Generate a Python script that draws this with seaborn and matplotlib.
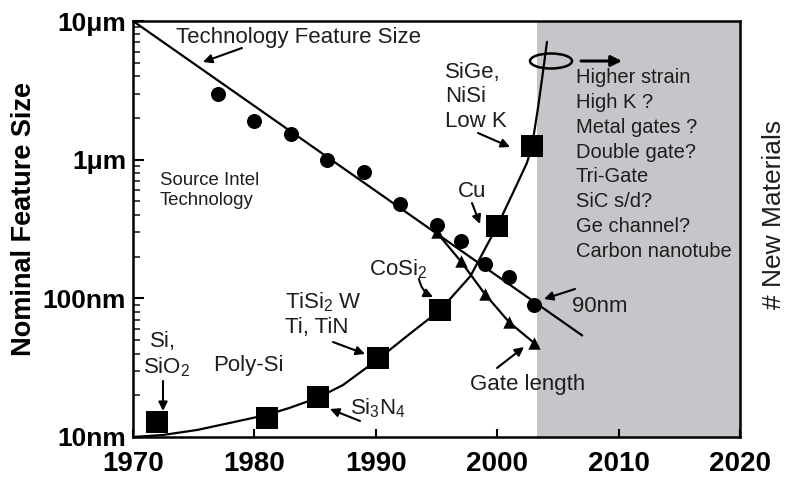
import matplotlib
matplotlib.use("Agg")
import matplotlib.pyplot as plt
from matplotlib.patches import Ellipse
from matplotlib.ticker import LogLocator, NullFormatter
import seaborn as sns

# ---------------- data ----------------
node_years = [1977, 1980, 1983, 1986, 1989, 1992, 1995, 1997, 1999, 2001, 2003]
node_nm = [3000, 1900, 1540, 1000, 810, 475, 340, 257, 176, 142, 89]

gate_years = [1995, 1997, 1999, 2001, 2003]
gate_nm = [300, 185, 107, 67, 48]

trend_years = [1970, 2007]
trend_nm = [10000, 54]

materials_years = [1972.0, 1981.0, 1985.2, 1990.2, 1995.3, 2000.0, 2002.9]
materials_count = [3.6, 4.6, 9.6, 19.0, 30.5, 50.7, 70.0]

curve_years = [1970.0, 1972.5, 1975.3, 1978.0, 1981.0, 1982.9, 1985.2, 1987.3,
               1990.1, 1992.8, 1995.3, 1997.8, 2000.0, 2001.3, 2002.45, 2002.87,
               2003.36, 2003.77, 2004.1]
curve_vals = [0.0, 0.5, 1.7, 3.4, 5.3, 7.0, 9.4, 12.5, 18.5, 24.8, 30.5, 38.7,
              50.7, 58.7, 65.9, 70.0, 79.1, 87.7, 95.0]

shade_start = 2003.3

x_ticks = [1970, 1980, 1990, 2000, 2010, 2020]
x_labels = ["1970", "1980", "1990", "2000", "2010", "2020"]
y_ticks_nm = [10, 100, 1000, 10000]
y_labels = ["10nm", "100nm", "1\u03bcm", "10\u03bcm"]

future_items = ["Higher strain", "High K ?", "Metal gates ?", "Double gate?",
                "Tri-Gate", "SiC s/d?", "Ge channel?", "Carbon nanotube"]

# ---------------- style ----------------
sns.set_theme(style="ticks")
plt.rcParams["font.family"] = ["Liberation Sans", "DejaVu Sans"]
plt.rcParams["mathtext.fontset"] = "custom"
plt.rcParams["mathtext.rm"] = "Liberation Sans"
plt.rcParams["mathtext.it"] = "Liberation Sans:italic"
plt.rcParams["mathtext.bf"] = "Liberation Sans:bold"

W, H = 789, 484
L, R, T, B = 133, 740, 21, 437
fig = plt.figure(figsize=(W / 100, H / 100), dpi=100)
fig.patch.set_facecolor("white")
ax = fig.add_axes([L / W, 1 - B / H, (R - L) / W, (B - T) / H])

ax.set_yscale("log")
ax.set_xlim(1970, 2020)
ax.set_ylim(10, 10000)
ax.axvspan(shade_start, 2020, color="#c6c6ca", lw=0, zorder=0)

sns.lineplot(x=trend_years, y=trend_nm, ax=ax, color="black", lw=1.6, zorder=2)
sns.lineplot(x=gate_years, y=gate_nm, ax=ax, color="black", lw=1.6, zorder=2)
sns.scatterplot(x=node_years, y=node_nm, ax=ax, marker="o", s=117,
                color="black", linewidth=0, zorder=3)
sns.scatterplot(x=gate_years, y=gate_nm, ax=ax, marker="^", s=80,
                color="black", linewidth=0, zorder=3)

ax.set_xticks(x_ticks)
ax.set_xticklabels(x_labels, fontsize=20, fontweight="bold")
ax.set_yticks(y_ticks_nm)
ax.set_yticklabels(y_labels, fontsize=19, fontweight="bold")
ax.yaxis.set_minor_locator(LogLocator(base=10, subs=range(2, 10)))
ax.yaxis.set_minor_formatter(NullFormatter())
ax.tick_params(axis="x", direction="in", length=6, width=1.5, pad=10,
               top=False, bottom=True, colors="black")
ax.tick_params(axis="y", which="major", direction="in", length=8, width=1.5,
               pad=5, left=True, right=False, colors="black")
ax.tick_params(axis="y", which="minor", direction="in", length=5, width=1.2,
               left=True, right=False)
ax.tick_params(axis="x", which="minor", bottom=False, top=False)
for sp in ax.spines.values():
    sp.set_visible(True)
    sp.set_linewidth(1.8)
    sp.set_color("black")
ax.set_xlabel("")
ax.set_ylabel("")

# ---------------- # new materials (right axis) ----------------
ax2 = ax.twinx()
ax2.set_xlim(1970, 2020)
ax2.set_ylim(0, 100)
sns.lineplot(x=curve_years, y=curve_vals, ax=ax2, color="black", lw=1.6, zorder=2)
sns.scatterplot(x=materials_years, y=materials_count, ax=ax2, marker="s", s=230,
                color="black", linewidth=0, zorder=3)
ax2.set_yticks([])
ax2.set_ylabel("")
for sp in ax2.spines.values():
    sp.set_visible(False)


def P(px, py):
    return ((px - L) / (R - L), (B - py) / (B - T))


TC = "#1e1e1e"
FS = 16


def txt(s, px, py, size=FS, ha="left"):
    ax2.text(*P(px, py), s, transform=ax2.transAxes, fontsize=size, color=TC,
             ha=ha, va="baseline", zorder=5)


def arrow(p0, p1, rad=0.0, lw=1.5, ms=13):
    ax2.annotate("", xy=P(*p1), xytext=P(*p0), xycoords="axes fraction",
                 textcoords="axes fraction",
                 arrowprops=dict(arrowstyle="-|>", color="black", lw=lw,
                                 mutation_scale=ms, shrinkA=0, shrinkB=0,
                                 connectionstyle=f"arc3,rad={rad}"),
                 zorder=5)


txt("Technology Feature Size", 176, 43)
arrow((242, 48), (203, 62))
txt("Source Intel", 160, 185, size=13.4)
txt("Technology", 160, 205, size=13.4)
txt("SiGe,", 445, 78)
txt("NiSi", 445, 102)
txt("Low K", 445, 127)
arrow((478, 133), (510, 147))
txt("Cu", 458, 197)
arrow((472, 203), (480, 224))
txt("CoSi$_2$", 369, 275)
arrow((419, 279), (433, 297), rad=0.25)
txt("TiSi$_2$ W", 285, 308)
txt("Ti, TiN", 285, 333)
arrow((333, 342), (365, 354))
txt("Si,", 163, 347, ha="center")
txt("SiO$_2$", 143, 373)
arrow((163, 381), (163, 411))
txt("Poly-Si", 213, 371)
txt("Si$_3$N$_4$", 350, 414)
arrow((360, 421), (330, 409))
txt("90nm", 572, 312)
arrow((575, 289), (544, 299))
txt("Gate length", 470, 390)
arrow((497, 368), (524, 347))

for i, item in enumerate(future_items):
    txt(item, 576, 83 + i * 24.85, size=14.5)

ell = Ellipse(P(551, 61), width=42 / (R - L), height=15 / (B - T),
              transform=ax2.transAxes, fill=False, ec="black", lw=1.8, zorder=6)
ax2.add_patch(ell)
arrow((581, 61), (622, 61), lw=2.2, ms=16)

fig.text(24 / W, 1 - 219 / H, "Nominal Feature Size", rotation=90, ha="center",
         va="center", fontsize=19.5, fontweight="bold", color="black")
fig.text(774 / W, 1 - 214 / H, "# New Materials", rotation=90, ha="center",
         va="center", fontsize=19, color=TC)

fig.savefig("out.png", dpi=100)
